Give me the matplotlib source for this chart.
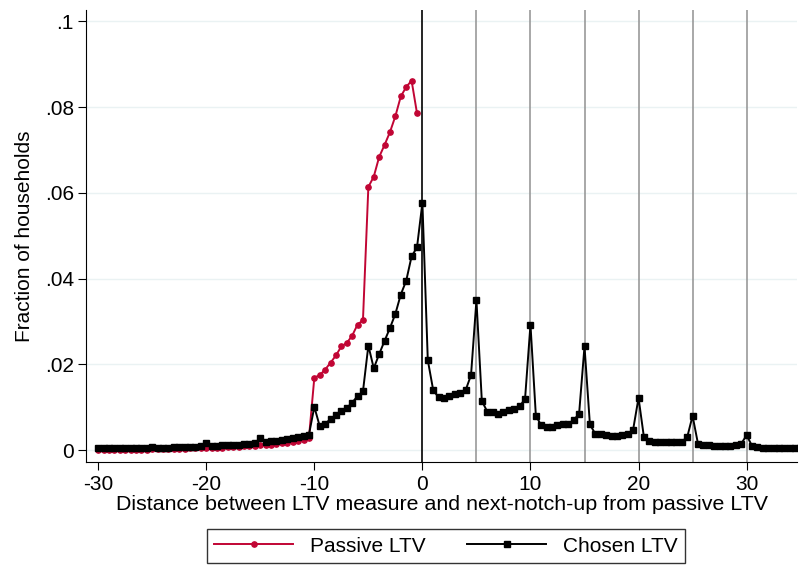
import matplotlib.pyplot as plt
import numpy as np

plt.rcParams['font.family'] = ['Liberation Sans', 'DejaVu Sans']
plt.rcParams['axes.unicode_minus'] = False

x_passive = np.arange(-30, 0, 0.5)
passive = [0, 0, 0, 0, 0, .0001, .0001, .0001, .0001, .0001,
           .0002, .0002, .0002, .0002, .0003, .0003, .0003, .0004, .0004, .0004,
           .0005, .0005, .0006, .0006, .0007, .0007, .0008, .0009, .0009, .0010,
           .0011, .0012, .0013, .0014, .0016, .0017, .0019, .0021, .0024, .0028,
           .0169, .0175, .0188, .0204, .0221, .0242, .0250, .0267, .0293, .0303,
           .0614, .0638, .0684, .0712, .0742, .0779, .0825, .0847, .0862, .0786]

x_chosen = np.arange(-30, 35.5, 0.5)
chosen = [.0004, .0004, .0004, .0004, .0004, .0005, .0005, .0005, .0005, .0005,
          .0007, .0006, .0006, .0006, .0007, .0007, .0007, .0008, .0008, .0009,
          .0016, .0010, .0010, .0011, .0011, .0012, .0013, .0014, .0015, .0017,
          .0028, .0020, .0021, .0022, .0024, .0026, .0028, .0030, .0033, .0036,
          .0101, .0056, .0062, .0072, .0082, .0092, .0098, .0111, .0126, .0137,
          .0244, .0191, .0224, .0255, .0285, .0318, .0363, .0395, .0452, .0473,
          .0577, .0210, .0140, .0123, .0121, .0127, .0130, .0133, .0140, .0175,
          .0350, .0115, .0090, .0090, .0085, .0088, .0093, .0097, .0102, .0120,
          .0293, .0080, .0058, .0055, .0055, .0058, .0060, .0062, .0070, .0085,
          .0242, .0060, .0038, .0037, .0035, .0033, .0033, .0035, .0038, .0048,
          .0122, .0030, .0022, .0020, .0020, .0019, .0019, .0018, .0020, .0030,
          .0080, .0015, .0012, .0011, .0010, .0010, .0010, .0010, .0011, .0015,
          .0035, .0010, .0007, .0006, .0006, .0005, .0005, .0005, .0005, .0006,
          .0007]

notches = [5, 10, 15, 20, 25, 30]

fig = plt.figure(figsize=(7.99, 5.72), dpi=100)
ax = fig.add_axes([0.108, 0.192, 0.89, 0.79])

ax.set_xlim(-31.1, 34.7)
ax.set_ylim(-0.0028, 0.1026)
ax.set_yticks([0, .02, .04, .06, .08, .1])
ax.set_yticklabels(['0', '.02', '.04', '.06', '.08', '.1'])
ax.set_xticks([-30, -20, -10, 0, 10, 20, 30])
ax.grid(axis='y', color='#eaf2f3', lw=1)
ax.set_axisbelow(True)
for s in ['top', 'right']:
    ax.spines[s].set_visible(False)
ax.tick_params(labelsize=15, length=6, pad=3)

ax.axvline(0, color='black', lw=1.2)
for n in notches:
    ax.axvline(n, color='#999999', lw=1.2)

ax.plot(x_passive, passive, color='#c10534', marker='o', ms=3.8, lw=1.4,
        label='Passive LTV')
ax.plot(x_chosen, chosen, color='black', marker='s', ms=3.8, lw=1.4,
        label='Chosen LTV')

ax.set_xlabel('Distance between LTV measure and next-notch-up from passive LTV',
              fontsize=15.4, labelpad=1)
ax.set_ylabel('Fraction of households', fontsize=15, labelpad=8)

fig.legend(loc='center', bbox_to_anchor=(0.558, 0.045), ncol=2, fontsize=15,
           frameon=True, fancybox=False, edgecolor='black', handlelength=3.8,
           columnspacing=2.0, borderpad=0.35)

fig.savefig('out.png')
